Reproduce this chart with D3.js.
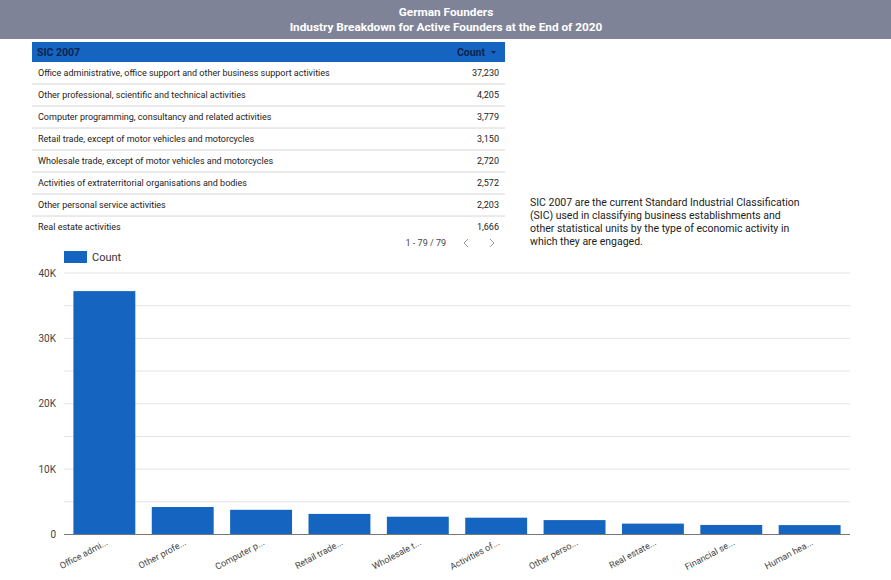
<!DOCTYPE html>
<html>
<head>
<meta charset="utf-8">
<script src="https://cdn.jsdelivr.net/npm/d3@7.9.0/dist/d3.min.js"></script>
<style>
  body { margin: 0; background: #fff; }
  svg { display: block; font-family: Roboto, "Noto Sans", sans-serif; }
</style>
</head>
<body>
<svg id="chart" width="891" height="580"></svg>
<script>
const titleLines = ['German Founders', 'Industry Breakdown for Active Founders at the End of 2020'];

const categories = [
  'Office administrative, office support and other business support activities',
  'Other professional, scientific and technical activities',
  'Computer programming, consultancy and related activities',
  'Retail trade, except of motor vehicles and motorcycles',
  'Wholesale trade, except of motor vehicles and motorcycles',
  'Activities of extraterritorial organisations and bodies',
  'Other personal service activities',
  'Real estate activities',
  'Financial service activities, except insurance and pension funding',
  'Human health activities'
];
const shortLabels = [
  'Office admi...', 'Other profe...', 'Computer p...', 'Retail trade...', 'Wholesale t...',
  'Activities of...', 'Other perso...', 'Real estate...', 'Financial se...', 'Human hea...'
];
const counts = [37230, 4205, 3779, 3150, 2720, 2572, 2203, 1666, 1460, 1440];
const tableRows = 8;
const yTicks = [0, 10000, 20000, 30000, 40000];
const gridTicks = [5000, 10000, 15000, 20000, 25000, 30000, 35000, 40000];
const description = [
  'SIC 2007 are the current Standard Industrial Classification',
  '(SIC) used in classifying business establishments and',
  'other statistical units by the type of economic activity in',
  'which they are engaged.'
];

const blue = '#1565c0';
const svg = d3.select('#chart');

// header band
svg.append('rect').attr('x', 0).attr('y', 0).attr('width', 891).attr('height', 39).attr('fill', '#7f8398');
svg.selectAll('.title').data(titleLines).join('text')
  .attr('x', 446).attr('y', (d, i) => 16 + i * 15)
  .attr('text-anchor', 'middle')
  .attr('fill', '#fff').attr('font-weight', 'bold').attr('font-size', 11.8)
  .text(d => d);

// table
const tbl = svg.append('g');
tbl.append('rect').attr('x', 32).attr('y', 42).attr('width', 473).attr('height', 20).attr('fill', blue);
tbl.append('text').attr('x', 37).attr('y', 56).attr('font-size', 10.5).attr('font-weight', 'bold')
  .attr('fill', '#0c2350').text('SIC 2007');
tbl.append('text').attr('x', 485).attr('y', 56).attr('font-size', 10.5).attr('font-weight', 'bold')
  .attr('text-anchor', 'end').attr('fill', '#0c2350').text('Count');
tbl.append('path').attr('d', 'M491,51 l5,0 l-2.5,3 z').attr('fill', '#0c2350');

const rowY = d3.scaleBand().domain(d3.range(tableRows)).range([62, 62 + tableRows * 22]);
const rows = tbl.selectAll('.row').data(d3.range(tableRows)).join('g')
  .attr('transform', i => `translate(0,${rowY(i)})`);
rows.append('text').attr('x', 38).attr('y', 14).attr('font-size', 9).attr('fill', '#222')
  .text(i => categories[i]);
rows.append('text').attr('x', 499).attr('y', 14).attr('font-size', 9).attr('fill', '#222')
  .attr('text-anchor', 'end').text(i => d3.format(',')(counts[i]));
rows.filter(i => i < tableRows - 1).append('line')
  .attr('x1', 32).attr('x2', 505).attr('y1', 22).attr('y2', 22)
  .attr('stroke', '#d6d6d6');

tbl.append('text').attr('x', 446).attr('y', 246).attr('text-anchor', 'end')
  .attr('font-size', 9).attr('fill', '#444').text(`1 - ${79} / ${79}`);
tbl.append('path').attr('d', 'M468,239 l-4,4 l4,4').attr('fill', 'none').attr('stroke', '#999');
tbl.append('path').attr('d', 'M490,239 l4,4 l-4,4').attr('fill', 'none').attr('stroke', '#999');

// description
svg.selectAll('.desc').data(description).join('text')
  .attr('x', 530).attr('y', (d, i) => 206 + i * 13)
  .attr('font-size', 10.5).attr('fill', '#222')
  .text(d => d);

// bar chart
const x = d3.scaleBand().domain(d3.range(counts.length)).range([64, 850]).paddingInner(0.21).paddingOuter(0.12);
const y = d3.scaleLinear().domain([0, 40000]).range([534.5, 273]);

svg.append('g').selectAll('line').data(gridTicks).join('line')
  .attr('x1', 64).attr('x2', 850)
  .attr('y1', d => y(d)).attr('y2', d => y(d))
  .attr('stroke', '#e4e4e4');

const yAxis = svg.append('g').attr('transform', 'translate(64,0)')
  .call(d3.axisLeft(y).tickValues(yTicks).tickSize(0).tickPadding(8)
    .tickFormat(d => d === 0 ? '0' : d / 1000 + 'K'));
yAxis.select('.domain').remove();
yAxis.selectAll('text').attr('font-size', 10).attr('fill', '#444').attr('font-family', 'Roboto, sans-serif');

svg.append('g').selectAll('rect').data(counts).join('rect')
  .attr('x', (d, i) => x(i)).attr('width', x.bandwidth())
  .attr('y', d => y(d)).attr('height', d => y(0) - y(d))
  .attr('fill', blue);

svg.append('line').attr('x1', 64).attr('x2', 850).attr('y1', y(0)).attr('y2', y(0))
  .attr('stroke', '#777').attr('stroke-width', 1.2);

svg.append('g').selectAll('text').data(shortLabels).join('text')
  .attr('transform', (d, i) => `translate(${x(i) + x.bandwidth() / 2 + 4},${y(0) + 10}) rotate(-28)`)
  .attr('text-anchor', 'end')
  .attr('font-size', 9).attr('fill', '#444')
  .text(d => d);

// legend
svg.append('rect').attr('x', 64).attr('y', 251).attr('width', 23).attr('height', 12).attr('fill', blue);
svg.append('text').attr('x', 92).attr('y', 261).attr('font-size', 11).attr('fill', '#333').text('Count');
</script>
</body>
</html>
